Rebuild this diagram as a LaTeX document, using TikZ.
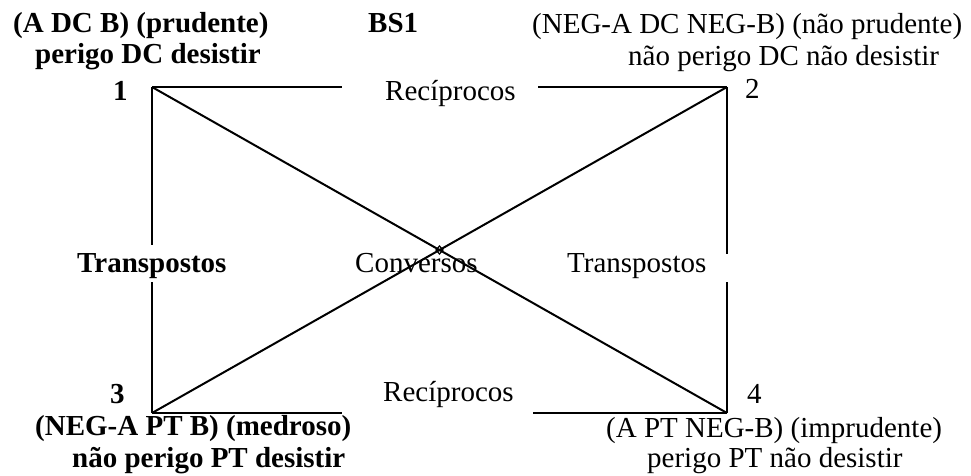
\documentclass[tikz,border=0pt]{standalone}
\usepackage{fontspec}
\setmainfont{Liberation Serif}
\begin{document}
\begin{tikzpicture}[x=1pt,y=-1pt,
  lbl/.style={anchor=base west,inner sep=0pt,font=\fontsize{29}{33}\selectfont},
  blbl/.style={lbl,font=\fontsize{29}{33}\selectfont\bfseries},
  edge/.style={line width=2pt,line cap=butt}]
\useasboundingbox (0,0) rectangle (971,475);
% corners
\coordinate (c1) at (152,87);
\coordinate (c2) at (727,87);
\coordinate (c3) at (152,413);
\coordinate (c4) at (727,413);
% gap ends
\coordinate (t1) at (342,87);
\coordinate (t2) at (538,87);
\coordinate (b1) at (342,413);
\coordinate (b2) at (533,413);
\coordinate (l1) at (152,245);
\coordinate (l2) at (152,282);
\coordinate (r1) at (727,254);
\coordinate (r2) at (727,282);
% frame
\draw[edge] (c1) -- (t1);
\draw[edge] (t2) -- (c2);
\draw[edge] (c3) -- (b1);
\draw[edge] (b2) -- (c4);
\draw[edge] (c1) -- (l1);
\draw[edge] (l2) -- (c3);
\draw[edge] (c2) -- (r1);
\draw[edge] (r2) -- (c4);
% diagonals
\draw[edge] (c1) -- (c4);
\draw[edge] (c2) -- (c3);
\draw[line width=1.2pt] (439.5,246) -- (443,250) -- (439.5,254) -- (436,250) -- cycle;
% texts
\node[blbl] (h1a) at (13,32) {(A DC B) (prudente)};
\node[blbl] (h1b) at (35,63) {perigo DC desistir};
\node[blbl] (n1) at (113,100) {1};
\node[blbl] (bs) at (368,32) {BS1};
\node[lbl] (h2a) at (532,33) {(NEG-A DC NEG-B) (não prudente)};
\node[lbl] (h2b) at (628,65) {não perigo DC não desistir};
\node[lbl] (n2) at (745,98) {2};
\node[lbl] (rt) at (385,100) {Recíprocos};
\node[lbl] (rb) at (383,401) {Recíprocos};
\node[blbl] (tl) at (77,272) {Transpostos};
\node[lbl] (cv) at (355,272) {Conversos};
\node[lbl] (tr) at (567,272) {Transpostos};
\node[blbl] (n3) at (110,403) {3};
\node[blbl] (h3a) at (35,435) {(NEG-A PT B) (medroso)};
\node[blbl] (h3b) at (72,467) {não perigo PT desistir};
\node[lbl] (n4) at (747,403) {4};
\node[lbl] (h4a) at (606,437) {(A PT NEG-B) (imprudente)};
\node[lbl] (h4b) at (647,467) {perigo PT não desistir};
\end{tikzpicture}
\end{document}
